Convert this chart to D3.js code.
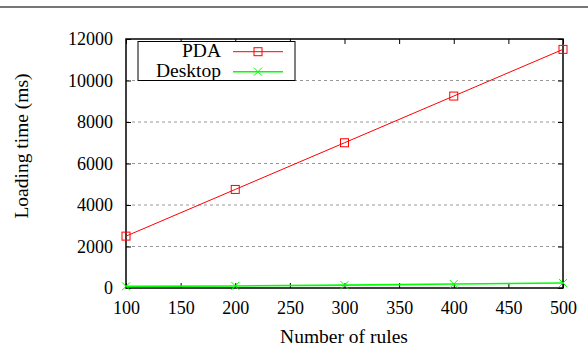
<!DOCTYPE html>
<html>
<head>
<meta charset="utf-8">
<script src="https://cdn.jsdelivr.net/npm/d3@7"></script>
<style>
  body { margin: 0; background: #fff; }
  text { font-family: "Liberation Serif", "DejaVu Serif", serif; fill: #000; }
</style>
</head>
<body>
<div id="chart"></div>
<script>
// data
var rules = [100, 200, 300, 400, 500];
var pdaTimes = [2500, 4750, 7000, 9250, 11500];
var desktopTimes = [80, 100, 140, 190, 240];
var xTicks = [100, 150, 200, 250, 300, 350, 400, 450, 500];
var yTicks = [0, 2000, 4000, 6000, 8000, 10000, 12000];

var series = [
    { label: 'PDA', values: pdaTimes, color: '#ff0000', marker: 'square' },
    { label: 'Desktop', values: desktopTimes, color: '#00ff00', marker: 'cross' }
];

var W = 588, H = 352;
var plot = { left: 126, right: 563, top: 39, bottom: 288 };
var serif = '"Liberation Serif", "DejaVu Serif", serif';

var svg = d3.select('#chart').append('svg')
    .attr('width', W)
    .attr('height', H);

// grey rule at the very top
svg.append('line')
    .attr('x1', 0).attr('x2', W)
    .attr('y1', 7).attr('y2', 7)
    .attr('stroke', '#777')
    .attr('stroke-width', 2);

var x = d3.scaleLinear().domain([100, 500]).range([plot.left, plot.right]);
var y = d3.scaleLinear().domain([0, 12000]).range([plot.bottom, plot.top]);

// dashed horizontal grid
svg.append('g')
    .selectAll('line')
    .data(yTicks.slice(1, -1))
    .enter()
    .append('line')
    .attr('x1', plot.left).attr('x2', plot.right)
    .attr('y1', function (d) { return y(d); })
    .attr('y2', function (d) { return y(d); })
    .attr('stroke', '#999')
    .attr('stroke-width', 1)
    .attr('stroke-dasharray', '3,3');

// axes, ticks pointing inward, mirrored on top/right
var tickLen = 5;
var fmt = d3.format('d');
var xAxis = svg.append('g')
    .attr('transform', 'translate(0,' + plot.bottom + ')')
    .call(d3.axisBottom(x).tickValues(xTicks).tickSize(-tickLen).tickPadding(13).tickFormat(fmt));
var xTop = svg.append('g')
    .attr('transform', 'translate(0,' + plot.top + ')')
    .call(d3.axisTop(x).tickValues(xTicks).tickSize(-tickLen).tickFormat(''));
var yAxis = svg.append('g')
    .attr('transform', 'translate(' + plot.left + ',0)')
    .call(d3.axisLeft(y).tickValues(yTicks).tickSize(-tickLen).tickPadding(13).tickFormat(fmt));
var yRight = svg.append('g')
    .attr('transform', 'translate(' + plot.right + ',0)')
    .call(d3.axisRight(y).tickValues(yTicks).tickSize(-tickLen).tickFormat(''));

[xAxis, xTop, yAxis, yRight].forEach(function (g) {
    g.attr('font-family', serif).attr('font-size', 18);
    g.select('.domain').remove();
    g.selectAll('line').attr('stroke', '#000');
    g.selectAll('text').attr('fill', '#000');
});

// frame
svg.append('rect')
    .attr('x', plot.left).attr('y', plot.top)
    .attr('width', plot.right - plot.left)
    .attr('height', plot.bottom - plot.top)
    .attr('fill', 'none')
    .attr('stroke', '#000')
    .attr('stroke-width', 1.5);

// axis titles
svg.append('text')
    .attr('x', 344)
    .attr('y', 343)
    .attr('text-anchor', 'middle')
    .style('font-size', '19.5px')
    .text('Number of rules');

svg.append('text')
    .attr('transform', 'translate(28,146) rotate(-90)')
    .attr('text-anchor', 'middle')
    .style('font-size', '19.5px')
    .text('Loading time (ms)');

var m = 4; // marker half size
function drawMarker(g, type, cx, cy, color) {
    if (type === 'square') {
        g.append('rect')
            .attr('x', cx - m).attr('y', cy - m)
            .attr('width', 2 * m).attr('height', 2 * m)
            .attr('fill', 'none')
            .attr('stroke', color)
            .attr('stroke-width', 1);
    } else {
        g.append('path')
            .attr('d', 'M' + (cx - m) + ',' + (cy - m) + 'L' + (cx + m) + ',' + (cy + m) +
                'M' + (cx - m) + ',' + (cy + m) + 'L' + (cx + m) + ',' + (cy - m))
            .attr('stroke', color)
            .attr('stroke-width', 1);
    }
}

var line = d3.line()
    .x(function (d) { return x(d[0]); })
    .y(function (d) { return y(d[1]); });

series.forEach(function (s) {
    var pts = rules.map(function (r, i) { return [r, s.values[i]]; });
    var g = svg.append('g');
    g.append('path')
        .datum(pts)
        .attr('d', line)
        .attr('fill', 'none')
        .attr('stroke', s.color)
        .attr('stroke-width', s.marker === 'cross' ? 1.6 : 1);
    pts.forEach(function (p) {
        drawMarker(g, s.marker, x(p[0]), y(p[1]), s.color);
    });
});

// legend
var legend = svg.append('g');
legend.append('rect')
    .attr('x', 138).attr('y', 41.5)
    .attr('width', 157).attr('height', 39)
    .attr('fill', '#fff')
    .attr('stroke', '#000')
    .attr('stroke-width', 1);

series.forEach(function (s, i) {
    var cy = 51.7 + i * 20;
    legend.append('text')
        .attr('x', 221)
        .attr('y', cy + 5.5)
        .attr('text-anchor', 'end')
        .style('font-size', '19.5px')
        .text(s.label);
    legend.append('line')
        .attr('x1', 233).attr('x2', 283)
        .attr('y1', cy).attr('y2', cy)
        .attr('stroke', s.color)
        .attr('stroke-width', s.marker === 'cross' ? 1.6 : 1);
    drawMarker(legend, s.marker, 258, cy, s.color);
});
</script>
</body>
</html>
